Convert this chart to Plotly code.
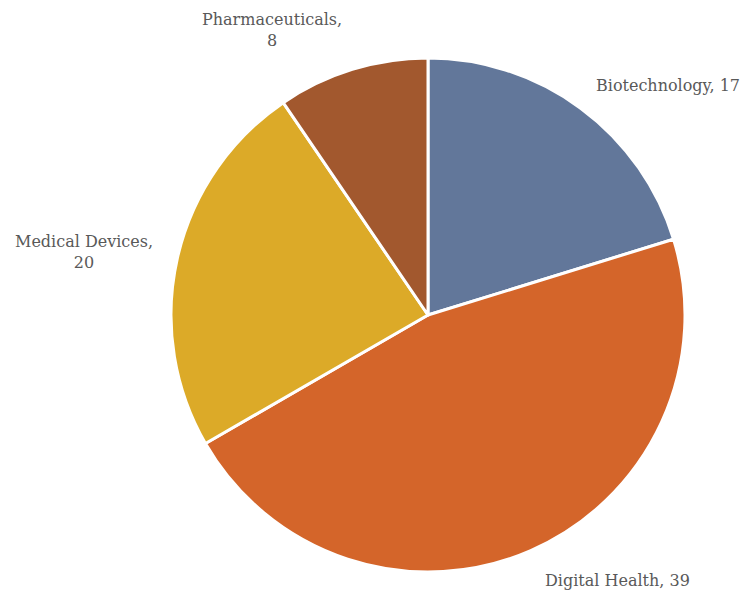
import plotly.graph_objects as go

categories = ["Biotechnology", "Digital Health", "Medical Devices", "Pharmaceuticals"]
values = [17, 39, 20, 8]
colors = ["#62779a", "#d4652a", "#dcaa28", "#a2582e"]

# label text and centre positions (screen pixels) for each category
label_text = ["Biotechnology, 17", "Digital Health, 39", "Medical Devices,<br>20", "Pharmaceuticals,<br>8"]
label_px = [668, 617, 84, 272]
label_py = [85, 580, 252, 30]

W, H = 753, 598
OFF = 8  # page body margin
cx, cy, r = 428 - OFF, 315 - OFF, 257

fig = go.Figure(go.Pie(
    labels=categories,
    values=values,
    sort=False,
    direction="clockwise",
    rotation=0,
    marker=dict(colors=colors, line=dict(color="white", width=3)),
    textinfo="none",
    hoverinfo="label+value",
    domain=dict(x=[(cx - r) / W, (cx + r) / W], y=[1 - (cy + r) / H, 1 - (cy - r) / H]),
    showlegend=False,
))

for t, px, py in zip(label_text, label_px, label_py):
    fig.add_annotation(text=t, x=(px - OFF) / W, y=1 - (py - OFF) / H,
                       xref="paper", yref="paper", xanchor="center", yanchor="middle",
                       showarrow=False, align="center",
                       font=dict(family="DejaVu Serif", size=16, color="#595959"))

fig.update_layout(
    width=W, height=H,
    margin=dict(l=0, r=0, t=0, b=0),
    paper_bgcolor="white",
    plot_bgcolor="white",
)

fig.write_html("out.html")
